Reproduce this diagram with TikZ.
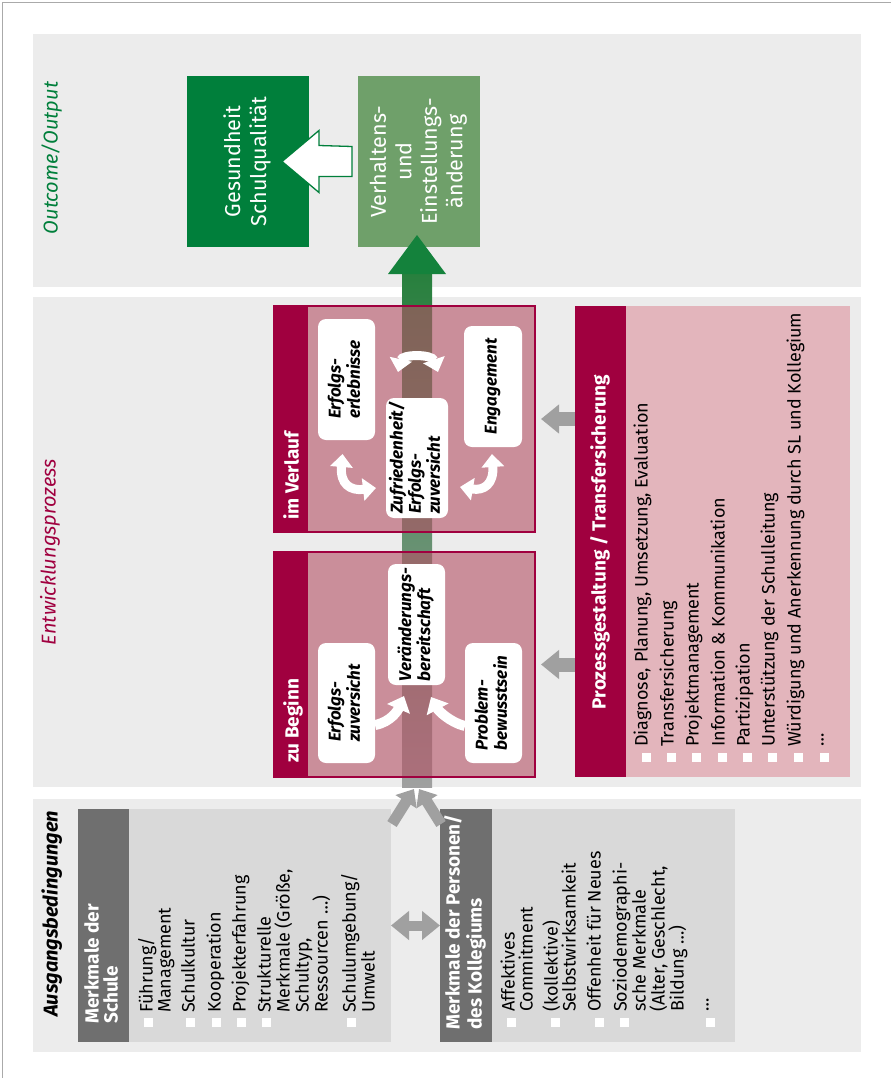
\documentclass[tikz,border=0pt]{standalone}
\usepackage{fontspec}
\setmainfont{Fira Sans}
\usepackage{graphicx}
\usetikzlibrary{arrows.meta,calc}
\definecolor{panel}{RGB}{236,236,236}
\definecolor{dgreen}{RGB}{0,127,59}
\definecolor{lgreen}{RGB}{111,160,106}
\definecolor{crimson}{RGB}{160,0,63}
\definecolor{pinkov}{RGB}{180,80,100}
\definecolor{pinklt}{RGB}{227,181,188}
\definecolor{dgray}{RGB}{111,111,111}
\definecolor{lgray}{RGB}{217,217,217}
\definecolor{agray}{RGB}{160,160,160}
\definecolor{shafttop}{RGB}{40,128,62}
\definecolor{shaftbot}{RGB}{160,160,160}
\definecolor{headg}{RGB}{20,130,60}
\definecolor{framec}{RGB}{170,170,170}
\newcommand\fbody{\fontsize{18}{19}\selectfont}
\newcommand\ftitle{\bfseries\fontsize{19}{21}\selectfont}
\newcommand\flabel{\bfseries\itshape\fontsize{17}{18}\selectfont}
\newcommand\rtl[1]{\rotatebox{90}{\begin{tabular}{@{}l@{}}#1\end{tabular}}}
\newcommand\rtc[1]{\rotatebox{90}{\begin{tabular}{@{}c@{}}#1\end{tabular}}}
\tikzset{
 rect/.style={anchor=north west, inner sep=0pt, outer sep=0pt, draw=none},
 tline/.style={rotate=90, anchor=mid west, inner sep=0pt, font=\fbody},
 wtline/.style={rotate=90, anchor=mid west, inner sep=0pt, text=white, font=\ftitle},
 bul/.style={fill=white, minimum size=9pt, inner sep=0pt},
 wbox/.style={fill=white, rounded corners=8pt, inner sep=0pt, outer sep=0pt, font=\flabel},
 warc/.style={draw=white, line width=9pt, {Triangle[width=22pt,length=13pt]}-{Triangle[width=22pt,length=13pt]}},
 warr/.style={draw=white, line width=10pt, -{Triangle[width=24pt,length=14pt]}},
 garrow/.style={draw=agray, line width=14pt, -{Triangle[width=28pt,length=18pt]}},
 garrowd/.style={draw=agray, line width=10pt, {Triangle[width=28pt,length=18pt]}-{Triangle[width=28pt,length=18pt]}},
 garrowu/.style={draw=agray, line width=11pt, -{Triangle[width=24pt,length=15pt]}},
}
\begin{document}
\begin{tikzpicture}[x=1pt,y=-1pt]
\useasboundingbox (0,0) rectangle (891,1078);
\draw[framec, line width=1pt] (2,1078) -- (2,3) -- (891,3);
% panels
\node[rect, fill=panel, minimum width=828pt, minimum height=253pt] (pout) at (33,34) {};
\node[rect, fill=panel, minimum width=828pt, minimum height=490pt] (pmid) at (33,297) {};
\node[rect, fill=panel, minimum width=828pt, minimum height=253pt] (pin) at (33,799) {};
% panel headings
\node[rotate=90, anchor=mid, inner sep=0pt, text=dgreen, font=\itshape\fontsize{20}{22}\selectfont] (hout) at (55,158) {Outcome/Output};
\node[rotate=90, anchor=mid, inner sep=0pt, text=crimson, font=\itshape\fontsize{20}{22}\selectfont] (hmid) at (53,552) {Entwicklungsprozess};
\node[rotate=90, anchor=mid west, inner sep=0pt, font=\bfseries\itshape\fontsize{20}{22}\selectfont] (hin) at (55,1017) {Ausgangsbedingungen};
% outcome boxes
\node[rect, fill=dgreen, minimum width=122pt, minimum height=171pt, text=white, font=\fontsize{21.5}{26}\selectfont] (gs) at (187,76) {\rtc{Gesundheit\\Schulqualität}};
\node[rect, fill=lgreen, minimum width=122pt, minimum height=171pt, text=white, font=\fontsize{21.5}{25.5}\selectfont] (vh) at (358,76) {\rtc{Verhaltens-\\und\\Einstellungs-\\änderung}};
\draw[fill=white, draw=dgreen, line width=1.3pt] ($(gs.east)+(-27,0)$) -- ++(37,-31) -- ++(0,15) -- ($(vh.west)+(-6,-15)$) -- ++(0,30) -- ($(gs.east)+(10,15)$) -- ++(0,16) -- cycle;
% green shaft
\coordinate (sht) at (417,274);
\coordinate (shb) at (417,787);
\shade[top color=shafttop, bottom color=shaftbot] ($(sht)+(-15,0)$) rectangle ($(shb)+(15,0)$);
% pink process boxes
\node[rect, fill=pinkov, fill opacity=0.6, draw=crimson, line width=1.2pt, minimum width=261pt, minimum height=226pt] (vl) at (274,306) {};
\node[rect, fill=crimson, minimum width=34pt, minimum height=226pt] (vls) at (274,306) {};
\node[wtline] (vlt) at (296,520) {im Verlauf};
\node[rect, fill=pinkov, fill opacity=0.6, draw=crimson, line width=1.2pt, minimum width=261pt, minimum height=225pt] (bg) at (274,552) {};
\node[rect, fill=crimson, minimum width=34pt, minimum height=225pt] (bgs) at (274,552) {};
\node[wtline] (bgt) at (296,763) {zu Beginn};
% green head
\fill[headg] ($(sht)+(-29,0)$) -- ($(sht)+(0,-39)$) -- ($(sht)+(29,0)$) -- cycle;
% white boxes
\node[wbox, minimum width=57pt, minimum height=121pt] (ee) at (346.5,379.5) {\rtl{Erfolgs-\\erlebnisse}};
\node[wbox, minimum width=62pt, minimum height=120pt] (zf) at (417,458) {\rtl{Zufriedenheit/\\Erfolgs-\\zuversicht}};
\node[wbox, minimum width=58pt, minimum height=121pt] (eng) at (493,386.5) {\rtl{Engagement}};
\node[wbox, minimum width=57pt, minimum height=120pt] (ez) at (346.5,703) {\rtl{Erfolgs-\\zuversicht}};
\node[wbox, minimum width=57pt, minimum height=121pt] (vb) at (416.5,624.5) {\rtl{Veränderungs-\\bereitschaft}};
\node[wbox, minimum width=57pt, minimum height=120pt] (pbw) at (493.5,703) {\rtl{Problem-\\bewusstsein}};
% white curved arrows
\draw[warc] ($(ee.south)+(-4,14)$) .. controls (340,484) and (350,491) .. ($(zf.west)+(-10,30)$);
\draw[warc] ($(eng.south)+(-1,7)$) .. controls (494,484) and (484,491) .. ($(zf.east)+(12,29)$);
\draw[warc] ($(zf.north)+(-19,-26)$) .. controls (402,354) and (432,354) .. ($(zf.north)+(21,-26)$);
\draw[warr] ($(ez.east)+(0,22)$) .. controls (391,722) and (398,710) .. ($(vb.south)+(-12.5,11)$);
\draw[warr] ($(pbw.west)+(0,23)$) .. controls (449,722) and (438,710) .. ($(vb.south)+(14.5,12)$);
% Prozessgestaltung
\node[rect, fill=crimson, minimum width=51pt, minimum height=471pt] (pzs) at (575,306) {};
\node[rect, fill=pinklt, minimum width=224pt, minimum height=471pt] (pzb) at (626,306) {};
\node[rotate=90, anchor=mid, inner sep=0pt, text=white, font=\ftitle] (pzt) at (603,542) {Prozessgestaltung / Transfersicherung};
\foreach \x in {646,671,696,722,747,772,798,824} \node[bul] at (\x,757) {};
\node[tline] (z1) at (645,747) {Diagnose, Planung, Umsetzung, Evaluation};
\node[tline] (z2) at (671,747) {Transfersicherung};
\node[tline] (z3) at (696,747) {Projektmanagement};
\node[tline] (z4) at (722,747) {Information \& Kommunikation};
\node[tline] (z5) at (747,747) {Partizipation};
\node[tline] (z6) at (772,747) {Unterstützung der Schulleitung};
\node[tline] (z7) at (798,747) {Würdigung und Anerkennung durch SL und Kollegium};
\node[tline] (z8) at (821,747) {…};
\draw[garrow] (pzs.west |- vl.east) -- ($(vl.east)+(6,0)$);
\draw[garrow] (pzs.west |- bg.east) -- ($(bg.east)+(6,0)$);
% Ausgangsbedingungen boxes
\node[rect, fill=dgray, minimum width=51pt, minimum height=233pt] (ss) at (78,809) {};
\node[rect, fill=lgray, minimum width=262pt, minimum height=233pt] (sb) at (129,809) {};
\node[wtline] (st1) at (96,1024) {Merkmale der};
\node[wtline] (st2) at (115,1024) {Schule};
\foreach \x in {148,190,216,241,266,351} \node[bul] at (\x,1022.5) {};
\node[tline] (s1) at (150,1013) {Führung/};
\node[tline] (s1b) at (168,1013) {Management};
\node[tline] (s2) at (192,1013) {Schulkultur};
\node[tline] (s3) at (218,1013) {Kooperation};
\node[tline] (s4) at (243,1013) {Projekterfahrung};
\node[tline] (s5) at (268,1013) {Strukturelle};
\node[tline] (s5b) at (287,1013) {Merkmale (Größe,};
\node[tline] (s5c) at (306,1013) {Schultyp,};
\node[tline] (s5d) at (325,1013) {Ressourcen …)};
\node[tline] (s6) at (353,1013) {Schulumgebung/};
\node[tline] (s6b) at (372,1013) {Umwelt};
\node[rect, fill=dgray, minimum width=52pt, minimum height=233pt] (ps) at (440,809) {};
\node[rect, fill=lgray, minimum width=243pt, minimum height=233pt] (pb) at (492,809) {};
\node[wtline] (pt1) at (457,1030) {Merkmale der Personen/};
\node[wtline] (pt2) at (479,1030) {des Kollegiums};
\foreach \x in {511,555,599,624,710} \node[bul] at (\x,1022) {};
\node[tline] (k1) at (512,1012) {Affektives};
\node[tline] (k1b) at (530,1012) {Commitment};
\node[tline] (k2) at (555,1012) {(kollektive)};
\node[tline] (k2b) at (573,1012) {Selbstwirksamkeit};
\node[tline] (k3) at (598,1012) {Offenheit für Neues};
\node[tline] (k4) at (624,1012) {Soziodemographi-};
\node[tline] (k4b) at (643,1012) {sche Merkmale};
\node[tline] (k4c) at (662,1012) {(Alter, Geschlecht,};
\node[tline] (k4d) at (681,1012) {Bildung …)};
\node[tline] (k5) at (706,1012) {…};
% gray arrows
\draw[garrowd] (sb.east) -- (ps.west);
\draw[garrowu] ($(sb.north east)+(1,15)$) -- ($(shb)+(-3,2)$);
\draw[garrowu] ($(ps.north west)+(1,15)$) -- ($(shb)+(2,2)$);
\end{tikzpicture}
\end{document}
